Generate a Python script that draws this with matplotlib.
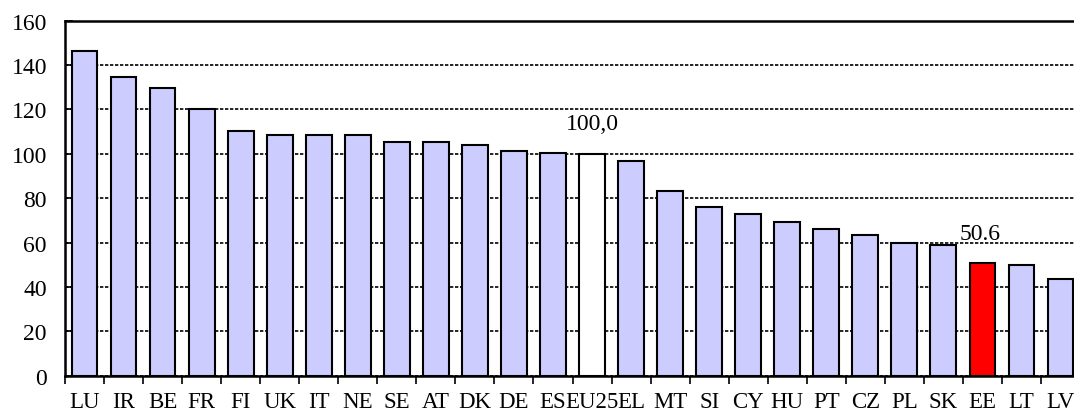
import matplotlib.pyplot as plt
from matplotlib.ticker import FixedLocator, NullFormatter

plt.rcParams['font.family'] = ['Liberation Serif', 'DejaVu Serif']

countries = ["LU", "IR", "BE", "FR", "FI", "UK", "IT", "NE", "SE", "AT", "DK", "DE", "ES",
             "EU25", "EL", "MT", "SI", "CY", "HU", "PT", "CZ", "PL", "SK", "EE", "LT", "LV"]
values = [146.5, 134.7, 129.5, 120.3, 110.4, 108.6, 108.6, 108.6, 105.2, 105.2, 104.1, 101.4, 100.5,
          100.0, 96.9, 83.4, 76.2, 72.7, 69.1, 66.2, 63.5, 59.9, 59.0, 50.6, 49.8, 43.7]
yticks = [0, 20, 40, 60, 80, 100, 120, 140, 160]

colors = []
for c in countries:
    if c == "EU25":
        colors.append("white")
    elif c == "EE":
        colors.append("#ff0000")
    else:
        colors.append("#ccccff")

fig = plt.figure(figsize=(10.74, 4.14), dpi=100)
ax = fig.add_axes([65 / 1074, 37.3 / 414, 1015 / 1074, 355 / 414])

x = list(range(len(countries)))
ax.bar(x, values, width=0.66, color=colors, edgecolor="black", linewidth=1.5, zorder=3)

ax.set_xlim(-0.5, len(countries) - 0.5)
ax.set_ylim(0, 160)
ax.set_yticks(yticks)
ax.tick_params(axis="y", direction="in", length=6, width=1.2, labelsize=17, pad=13)

# category boundaries get the ticks, names sit in between
ax.xaxis.set_major_locator(FixedLocator([i - 0.5 for i in range(len(countries))]))
ax.xaxis.set_major_formatter(NullFormatter())
ax.xaxis.set_minor_locator(FixedLocator(x))
ax.set_xticklabels(countries, minor=True)
ax.tick_params(axis="x", which="major", direction="out", length=6, width=1.2)
ax.tick_params(axis="x", which="minor", length=0, labelsize=16.5, pad=11)

ax.yaxis.grid(True, color="black", linestyle=(0, (2, 1)), linewidth=1.2, zorder=0)
ax.set_axisbelow(True)
for s in ["left", "bottom", "top"]:
    ax.spines[s].set_linewidth(1.8)
ax.spines["right"].set_visible(False)

i_eu = countries.index("EU25")
ax.text(i_eu, 109, "100,0", ha="center", va="bottom", fontsize=17)
i_ee = countries.index("EE")
ax.text(i_ee - 0.05, 59.5, "50.6", ha="center", va="bottom", fontsize=17)

fig.savefig("out.png", dpi=100)
